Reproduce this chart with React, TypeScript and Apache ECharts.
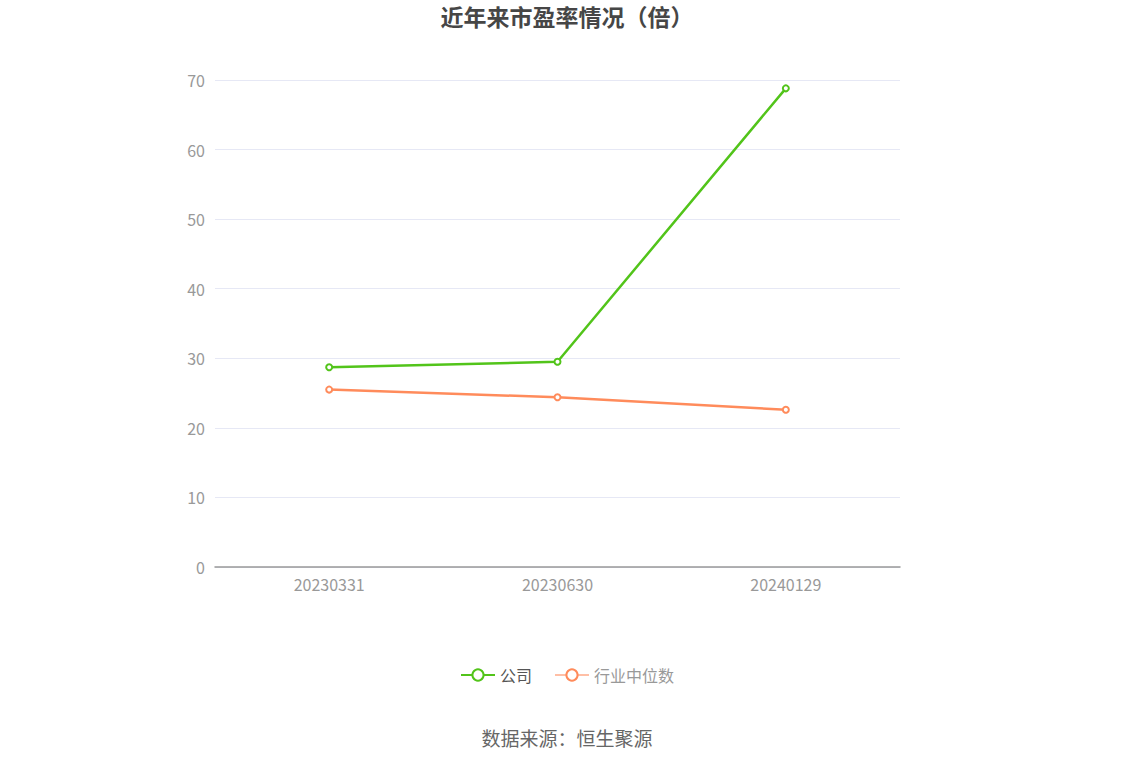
import React, { useEffect, useRef } from "react";
import * as echarts from "echarts";

const dates = ["20230331", "20230630", "20240129"];
const companyPE = [28.7, 29.5, 68.8];
const industryPE = [25.5, 24.4, 22.6];
const yTicks = [0, 10, 20, 30, 40, 50, 60, 70];

const App = () => {
  const chartRef = useRef<HTMLDivElement | null>(null);

  useEffect(() => {
    if (!chartRef.current) return;
    const chart = echarts.init(chartRef.current, undefined, { renderer: "svg" });

    const fontFamily = "'Noto Sans CJK SC', 'Noto Sans', sans-serif";

    chart.setOption({
      animation: false,
      textStyle: { fontFamily },
      title: {
        text: "近年来市盈率情况（倍）",
        left: "center",
        top: -1,
        textStyle: { fontSize: 23, fontWeight: "bold", color: "#464646", fontFamily },
      },
      grid: { left: 215, right: 234, top: 80, bottom: 199 },
      legend: {
        bottom: 78,
        left: "center",
        itemWidth: 34,
        itemHeight: 14,
        itemGap: 22,
        textStyle: { fontSize: 16, color: "#555" },
        data: [
          { name: "公司" },
          {
            name: "行业中位数",
            itemStyle: { borderColor: "#ffbfa6", borderWidth: 2 },
            lineStyle: { color: "#ffbfa6" },
            textStyle: { color: "#999" },
          },
        ],
      },
      graphic: [
        {
          type: "text",
          left: "center",
          top: 728,
          style: { text: "数据来源：恒生聚源", fontSize: 19, fill: "#666", fontFamily },
        },
      ],
      xAxis: {
        type: "category",
        data: dates,
        axisLine: { lineStyle: { color: "#999", width: 1.5 } },
        axisTick: { alignWithLabel: true, length: 6, lineStyle: { color: "#999" } },
        axisLabel: { fontSize: 16, color: "#999", margin: 9 },
      },
      yAxis: {
        type: "value",
        min: yTicks[0],
        max: yTicks[yTicks.length - 1],
        interval: 10,
        axisLine: { show: false },
        axisTick: { show: false },
        axisLabel: { fontSize: 16, color: "#999", margin: 10 },
        splitLine: { lineStyle: { color: "#e6e8f5" } },
      },
      series: [
        {
          name: "公司",
          type: "line",
          data: companyPE,
          symbol: "emptyCircle",
          symbolSize: 6,
          color: "#52c41a",
          lineStyle: { width: 2.5, color: "#52c41a" },
          itemStyle: { color: "#52c41a", borderWidth: 2 },
        },
        {
          name: "行业中位数",
          type: "line",
          data: industryPE,
          symbol: "emptyCircle",
          symbolSize: 6,
          color: "#ff8b5b",
          lineStyle: { width: 2.5, color: "#ff8b5b" },
          itemStyle: { color: "#ff8b5b", borderWidth: 2 },
        },
      ],
    });

    return () => {
      chart.dispose();
    };
  }, []);

  return (
    <div
      ref={chartRef}
      style={{ position: "fixed", left: 0, top: 0, width: "1134px", height: "766px", background: "#fff" }}
    ></div>
  );
};

export default App;
